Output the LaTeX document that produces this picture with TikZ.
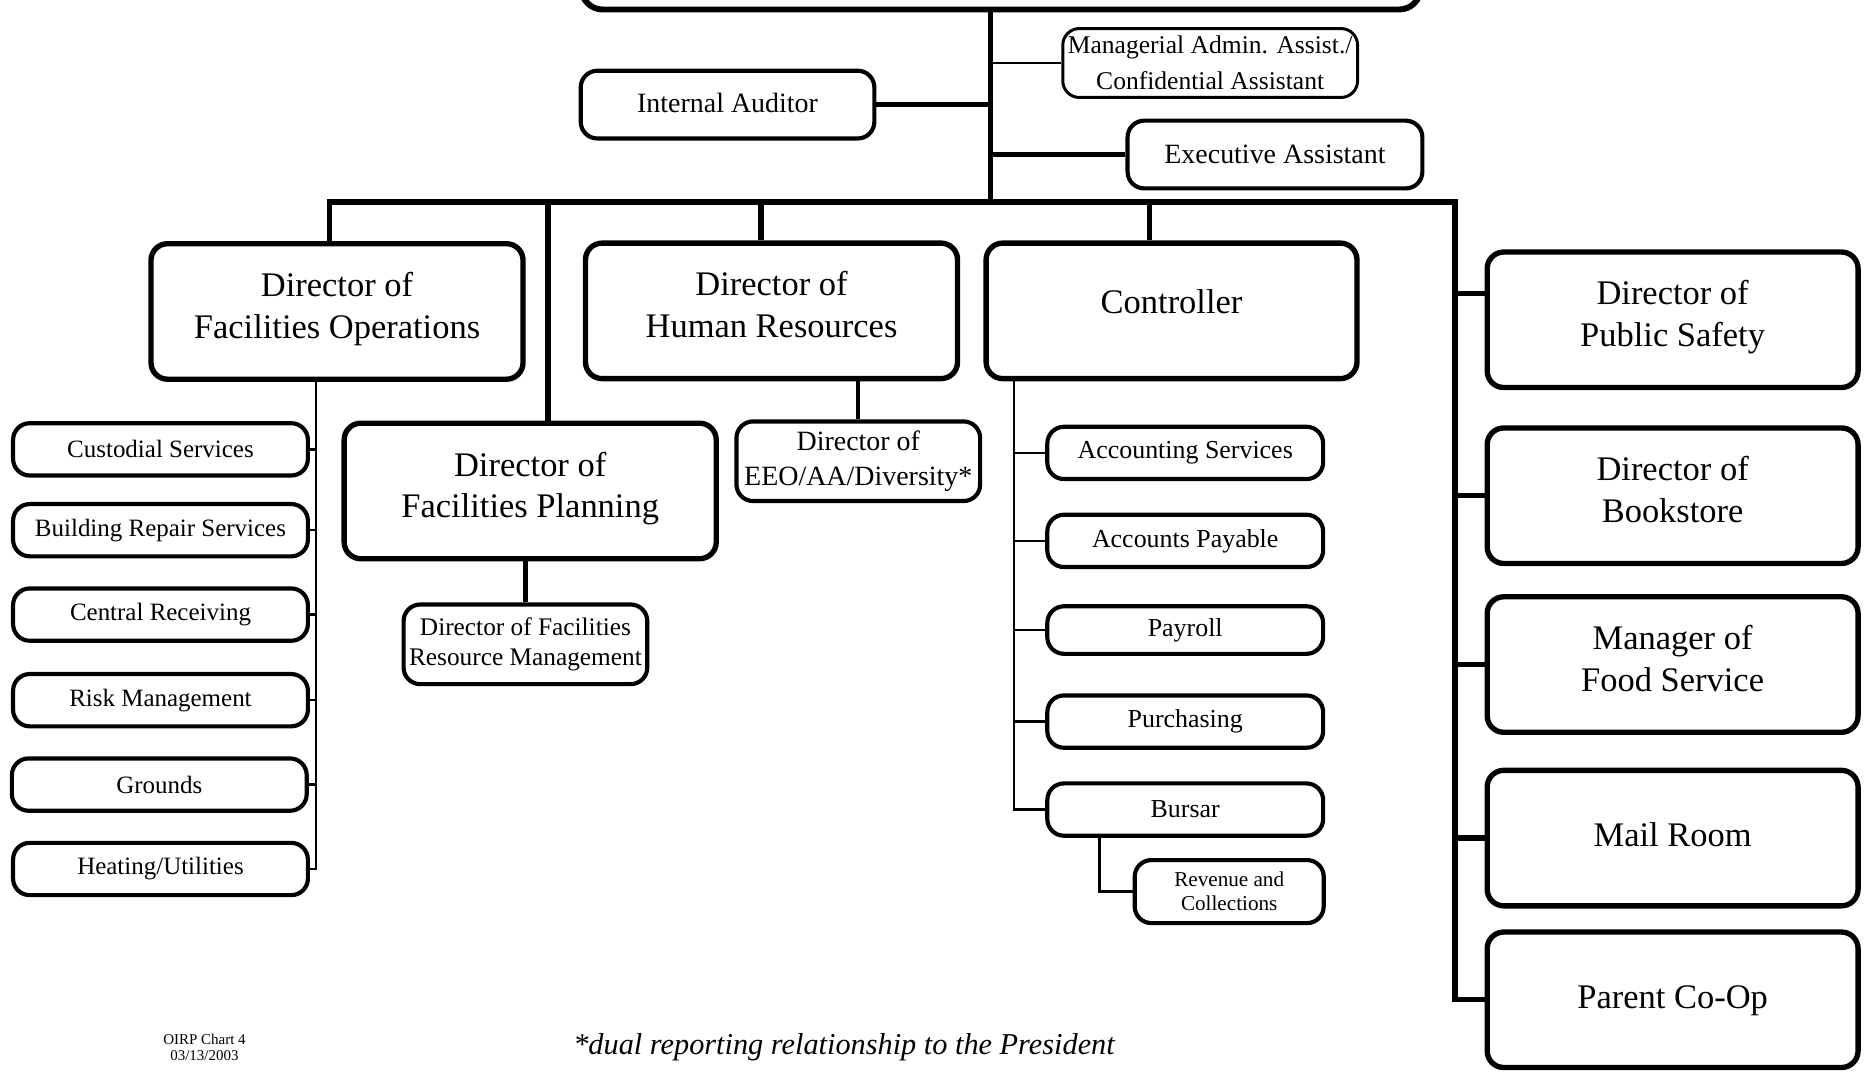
\documentclass[tikz,border=0pt]{standalone}
\usepackage{fontspec}
\setmainfont{Liberation Serif}
\begin{document}
\begin{tikzpicture}[x=1pt,y=-1pt,
  box/.style={draw, align=center, inner sep=0pt, rounded corners=14pt},
  bigbox/.style={box, line width=4.5pt, minimum width=313pt, minimum height=114pt,
    font=\fontsize{29}{35}\selectfont, execute at end node={\strut}},
  midbox/.style={box, line width=3.5pt, font=\fontsize{23.5}{30}\selectfont},
  listbox/.style={box, line width=3.5pt, minimum width=248pt, minimum height=44pt,
    font=\fontsize{21}{24}\selectfont},
  ctlbox/.style={listbox, minimum width=232pt, font=\fontsize{21.8}{24}\selectfont},
  heavy/.style={line width=4.5pt},
  medium/.style={line width=3.5pt},
  fine/.style={line width=2pt}
]
\useasboundingbox (0,0) rectangle (1568,901);
\fill[white] (0,0) rectangle (1568,901);
\clip (0,0) rectangle (1568,901);

% top of the chart
\node[box, line width=5pt, minimum width=706pt, minimum height=80pt, rounded corners=18pt] (pres) at (842,-32) {};
\node[midbox, line width=2.5pt, minimum width=248pt, minimum height=58pt,
      font=\fontsize{21.5}{30}\selectfont] (mgr) at (1018,53) {Managerial Admin. Assist./\\Confidential Assistant};
\node[midbox, minimum width=247pt, minimum height=57pt] (audit) at (612,88) {\raisebox{3pt}{Internal Auditor}};
\node[midbox, minimum width=248pt, minimum height=57pt] (exec) at (1072.5,130) {Executive Assistant};

% directors
\node[bigbox] (fops) at (283.5,262) {Director of\\Facilities Operations};
\node[bigbox] (hr) at (649,261.5) {Director of\\Human Resources};
\node[bigbox, minimum width=312pt] (ctrl) at (985.5,261.5) {\raisebox{4.5pt}{Controller}};
\node[bigbox] (fplan) at (446,413) {Director of\\Facilities Planning};
\node[midbox, minimum width=205pt, minimum height=67pt] (eeo) at (722,388) {Director of\\EEO/AA/Diversity*};
\node[midbox, minimum width=205pt, minimum height=67pt,
      font=\fontsize{21.3}{25}\selectfont] (frm) at (442,542) {Director of Facilities\\Resource Management};

% facilities operations units
\node[listbox] (cust) at (135,378) {Custodial Services};
\node[listbox] (bldg) at (135,446) {Building Repair Services};
\node[listbox] (recv) at (135,517) {Central Receiving};
\node[listbox] (risk) at (135,589) {Risk Management};
\node[listbox] (grnd) at (134,660) {Grounds};
\node[listbox] (heat) at (135,731) {Heating/Utilities};

% controller units
\node[ctlbox] (acct) at (997,381) {Accounting Services};
\node[ctlbox] (ap) at (997,455) {Accounts Payable};
\node[ctlbox, minimum height=40pt] (pay) at (997,530) {Payroll};
\node[ctlbox] (purch) at (997,607) {Purchasing};
\node[ctlbox] (bursar) at (997,681) {Bursar};
\node[ctlbox, minimum width=159pt, minimum height=53pt,
      font=\fontsize{17.8}{20}\selectfont] (rev) at (1034,750) {Revenue and\\Collections};

% right-hand column
\node[bigbox, minimum width=312pt] (ps) at (1407,269) {Director of\\Public Safety};
\node[bigbox, minimum width=312pt] (bs) at (1407,417) {Director of\\Bookstore};
\node[bigbox, minimum width=312pt] (fs) at (1407,559) {Manager of\\Food Service};
\node[bigbox, minimum width=312pt] (mr) at (1407,705) {Mail Room};
\node[bigbox, minimum width=312pt] (pc) at (1407,841) {Parent Co-Op};

% footer
\node[font=\fontsize{12.6}{14}\selectfont, align=center] (oirp) at (172,881) {OIRP Chart 4\\03/13/2003};
\node[font=\fontsize{25.5}{28}\selectfont\itshape] (note) at (710,881) {*dual reporting relationship to the President};

% trunk and bus
\coordinate (trunk) at (833,170);
\coordinate (bfo) at (277,170);
\coordinate (bfp) at (461,170);
\coordinate (bhr) at (640,170);
\coordinate (bct) at (967,170);
\coordinate (bre) at (1224,170);
\draw[heavy] (pres.south -| trunk) -- (trunk);
\draw[fine] (mgr.west) -- (mgr.west -| trunk);
\draw[heavy] (audit.east) -- (audit.east -| trunk);
\draw[heavy] (exec.west) -- (exec.west -| trunk);
\draw[heavy] (bfo |- fops.north) -- (bfo) -- (bre) |- (pc.west);
\draw[heavy] (bfp) -- (bfp |- fplan.north);
\draw[heavy] (bhr) -- (bhr |- hr.north);
\draw[heavy] (bct) -- (bct |- ctrl.north);
\draw[heavy] (ps.172) -- (ps.172 -| bre);
\foreach \n in {bs,fs,mr} \draw[heavy] (\n.west) -- (\n.west -| bre);

% second level links
\draw[medium] (hr.south -| eeo.north) -- (eeo.north);
\draw[medium] (fplan.south -| frm.north) -- (frm.north);

\coordinate (fl) at (266,0);
\draw[fine] (fops.south -| fl) |- (heat.east);
\foreach \n in {cust,bldg,recv,risk,grnd} \draw[fine] (\n.east) -- (\n.east -| fl);

\coordinate (cl) at (853,0);
\draw[fine] (ctrl.south -| cl) |- (bursar.west);
\foreach \n in {acct,ap,pay,purch} \draw[fine] (\n.west) -- (\n.west -| cl);

\coordinate (rl) at (925,0);
\draw[fine] (bursar.south -| rl) |- (rev.west);
\end{tikzpicture}
\end{document}
